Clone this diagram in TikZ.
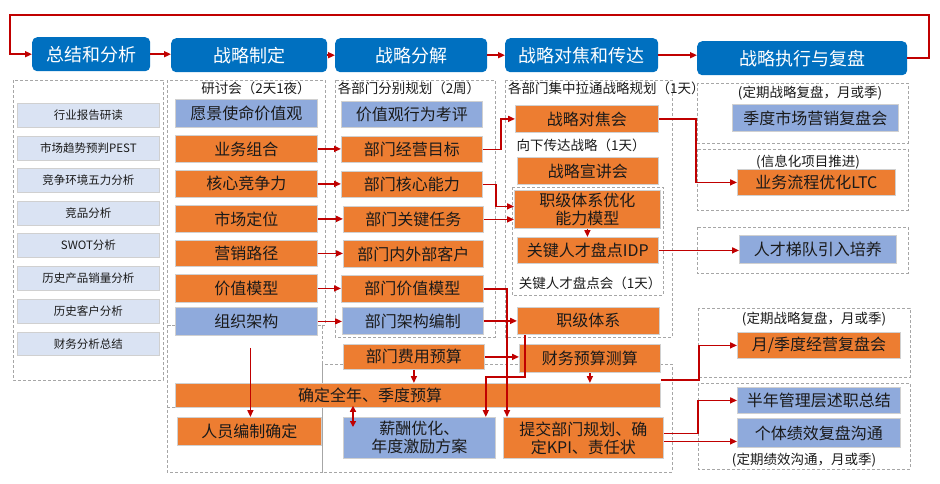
\documentclass[tikz,border=0pt]{standalone}
\usepackage{fontspec}
\setmainfont{Noto Sans CJK SC}
\usetikzlibrary{arrows.meta}
\definecolor{hblue}{HTML}{0070C0}
\definecolor{orng}{HTML}{ED7D31}
\definecolor{bblue}{HTML}{8FAADC}
\definecolor{lblue}{HTML}{DAE3F3}
\definecolor{ared}{HTML}{C00000}
\definecolor{dgray}{HTML}{A6A6A6}
\definecolor{bgray}{HTML}{D0D0D0}
\definecolor{txt}{HTML}{1A1A1A}
\newcommand\bx[7]{\node[#1,anchor=north west,minimum width={(#5)-(#3)},minimum height={(#6)-(#4)}] (#2) at (#3,#4) {#7};}
\tikzset{
  hbox/.style={fill=hblue,rounded corners=5pt,text=white,font=\fontsize{18}{20}\selectfont,inner sep=0pt},
  obox/.style={fill=orng,draw=bgray,line width=0.8pt,text=txt,font=\fontsize{16}{18}\selectfont,align=center,inner sep=0pt},
  bbox/.style={fill=bblue,draw=bgray,line width=0.8pt,text=txt,font=\fontsize{16}{18}\selectfont,align=center,inner sep=0pt},
  lbox/.style={fill=lblue,draw=bgray,line width=0.8pt,text=txt,font=\fontsize{11.5}{13}\selectfont,inner sep=0pt},
  lab/.style={text=txt,font=\fontsize{13.5}{15}\selectfont,inner sep=0pt},
  bigtxt/.style={text=txt,font=\fontsize{16}{18}\selectfont,inner sep=0pt},
  dbox/.style={draw=dgray,dash pattern=on 3pt off 2pt,line width=0.8pt},
  arr/.style={draw=ared,line width=1.6pt,-{Triangle[length=7pt,width=6pt]}},
  arrtwo/.style={draw=ared,line width=1.6pt,{Triangle[length=6pt,width=6pt]}-{Triangle[length=6pt,width=6pt]}}
}
\begin{document}
\begin{tikzpicture}[x=1pt,y=-1pt]
\useasboundingbox (0,0) rectangle (940,483);
% dashed groups
\draw[dbox] (13,80) rectangle (163,380);
\draw[dbox] (167,80) rectangle (325,325);
\draw[dbox] (167,325) rectangle (322,472);
\draw[dbox] (167,407) -- (175,407);
\draw[dbox] (335,80) rectangle (495,337);
\draw[dbox] (322,364) rectangle (672,472);
\draw[dbox] (505,80) rectangle (672,337);
\draw[dbox] (512,187) rectangle (663,295);
\draw[dbox] (697,83) rectangle (908,143);
\draw[dbox] (697,149) rectangle (908,210);
\draw[dbox] (697,227) rectangle (908,273);
\draw[dbox] (698,308) rectangle (910,377);
\draw[dbox] (698,383) rectangle (910,469);
% headers
\bx{hbox}{h1}{32}{37}{150}{71}{总结和分析}
\bx{hbox}{h2}{171}{38}{327}{72}{战略制定}
\bx{hbox}{h3}{335}{38}{487}{72}{战略分解}
\bx{hbox}{h4}{505}{38}{658}{72}{战略对焦和传达}
\bx{hbox}{h5}{697}{41}{907}{75}{战略执行与复盘}
% column 1
\bx{lbox}{c1a}{17}{103}{159}{127}{行业报告研读}
\bx{lbox}{c1b}{17}{136}{159}{160}{市场趋势预判PEST}
\bx{lbox}{c1c}{17}{168}{159}{192}{竞争环境五力分析}
\bx{lbox}{c1d}{17}{201}{159}{225}{竞品分析}
\bx{lbox}{c1e}{17}{233}{159}{257}{SWOT分析}
\bx{lbox}{c1f}{17}{266}{159}{290}{历史产品销量分析}
\bx{lbox}{c1g}{17}{299}{159}{323}{历史客户分析}
\bx{lbox}{c1h}{17}{332}{159}{355}{财务分析总结}
% column 2
\node[lab] (l2) at (256,88) {研讨会（2天1夜）};
\bx{bbox}{c2a}{175}{99}{317}{127}{愿景使命价值观}
\bx{obox}{c2b}{175}{135}{317}{162}{业务组合}
\bx{obox}{c2c}{175}{170}{317}{197}{核心竞争力}
\bx{obox}{c2d}{175}{205}{317}{232}{市场定位}
\bx{obox}{c2e}{175}{240}{317}{266}{营销路径}
\bx{obox}{c2f}{175}{274}{317}{302}{价值模型}
\bx{bbox}{c2g}{175}{307}{317}{335}{组织架构}
\bx{obox}{c2h}{175}{383}{660}{407}{}
\node[bigtxt] (t2h) at (370,395) {确定全年、季度预算};
\bx{obox}{c2i}{177}{417}{321}{445}{人员编制确定}
% column 3
\node[lab] (l3) at (409,88) {各部门分别规划（2周）};
\bx{bbox}{c3a}{341}{101}{482}{127}{价值观行为考评}
\bx{obox}{c3b}{341}{136}{482}{162}{部门经营目标}
\bx{obox}{c3c}{341}{171}{482}{197}{部门核心能力}
\bx{obox}{c3d}{343}{206}{483}{232}{部门关键任务}
\bx{obox}{c3e}{343}{240}{483}{267}{部门内外部客户}
\bx{obox}{c3f}{341}{275}{483}{302}{部门价值模型}
\bx{bbox}{c3g}{342}{307}{483}{334}{部门架构编制}
\bx{obox}{c3h}{343}{344}{484}{369}{部门费用预算}
\bx{bbox}{c3i}{343}{417}{495}{458}{薪酬优化、\\年度激励方案}
% column 4
\node[lab,anchor=west] (l4) at (508,88) {各部门集中拉通战略规划（1天）};
\bx{obox}{c4a}{515}{105}{658}{132}{战略对焦会}
\node[lab] (l4b) at (581,145) {向下传达战略（1天）};
\bx{obox}{c4b}{517}{157}{658}{184}{战略宣讲会}
\bx{obox}{c4c}{514}{190}{660}{228}{职级体系优化\\能力模型}
\bx{obox}{c4d}{517}{237}{658}{263}{关键人才盘点IDP}
\node[lab] (l4c) at (590,283) {关键人才盘点会（1天）};
\bx{obox}{c4e}{517}{307}{659}{334}{职级体系}
\bx{obox}{c4f}{519}{344}{660}{372}{财务预算测算}
\bx{obox}{c4g}{503}{417}{663}{458}{提交部门规划、确\\定KPI、责任状}
% column 5
\node[lab] (l5a) at (810,93) {(定期战略复盘，月或季)};
\bx{bbox}{c5a}{732}{104}{898}{131}{季度市场营销复盘会}
\node[lab] (l5b) at (808,162) {(信息化项目推进)};
\bx{obox}{c5b}{737}{169}{895}{195}{业务流程优化LTC}
\bx{bbox}{c5c}{739}{235}{896}{263}{人才梯队引入培养}
\node[lab] (l5d) at (814,319) {(定期战略复盘，月或季)};
\bx{obox}{c5d}{737}{332}{900}{358}{月/季度经营复盘会}
\bx{bbox}{c5e}{737}{387}{900}{413}{半年管理层述职总结}
\bx{bbox}{c5f}{737}{418}{900}{447}{个体绩效复盘沟通}
\node[lab] (l5f) at (804,460) {(定期绩效沟通，月或季)};
% header arrows
\draw[arr] (h1.east) -- (h1.east -| h2.west);
\draw[arr] (h2.east) -- (h2.east -| h3.west);
\draw[arr] (h3.east) -- (h3.east -| h4.west);
\draw[arr] (h4.east) -- (h4.east -| h5.west);
\coordinate (lp1) at (929,15);
\coordinate (lp2) at (10,15);
\draw[arr] (h5.east) -| (lp1) -- (lp2) |- (h1.west);
% column 2 -> 3
\draw[arr] (c2b.east) -- (c2b.east -| c3b.west);
\draw[arr] (c2c.east) -- (c2c.east -| c3c.west);
\draw[arr] (c2d.east) -- (c2d.east -| c3d.west);
\draw[arr] (c2e.east) -- (c2e.east -| c3e.west);
\draw[arr] (c2f.east) -- (c2f.east -| c3f.west);
\draw[arr] (c2g.east) -- (c2g.east -| c3g.west);
\coordinate (g1) at ([xshift=4pt,yshift=-12pt]c2g.south);
\draw[arr] (g1) -- (g1 |- c2i.north);
% column 3 -> 4
\draw[arr] (c3b.east) -- ++(18,0) |- (c4a.west);
\draw[arr] (c3c.east) -- ++(13,0) |- ([yshift=3pt]c4c.west);
\draw[arr] (c3d.east) -- (c3d.east -| c4c.west);
\draw[arr] (c4c.south) -- (c4c.south |- c4d.north);
\draw[arr] (c3f.east) -| ([xshift=4pt]c4g.north west);
\draw[arr] (c3g.east) -- (c3g.east -| c4e.west);
\draw[arr] (c3h.east) -- (c3h.east -| c4f.west);
\draw[arr] (c3h.south) -- (c3h.south |- c2h.north);
\draw[arr] (c4f.south) -- (c4f.south |- c2h.north);
\draw[arr] ([xshift=8pt]c4e.south west) -- ++(0,42) -| ([xshift=-10pt]c3i.north east);
\coordinate (d1) at ([xshift=10pt]c3i.north west);
\draw[arrtwo] ([yshift=2pt]d1 |- c2h.south) -- ([yshift=-10pt]d1);
% column 4 -> 5
\draw[arr] (c4a.east) -- ++(37,0) |- (c5b.west);
\draw[arr] (c4d.east) -- (c4d.east -| c5c.west);
\draw[arr] ([yshift=3pt]c2h.north east) -- ++(38,0) |- (c5d.west);
\draw[arr] ([yshift=4.5pt]c4g.east) -- ++(34,0) |- (c5e.west);
\coordinate (k1) at ([yshift=-3.5pt]c4g.east);
\draw[arr] (k1) -- (k1 -| c5f.west);
\end{tikzpicture}
\end{document}
